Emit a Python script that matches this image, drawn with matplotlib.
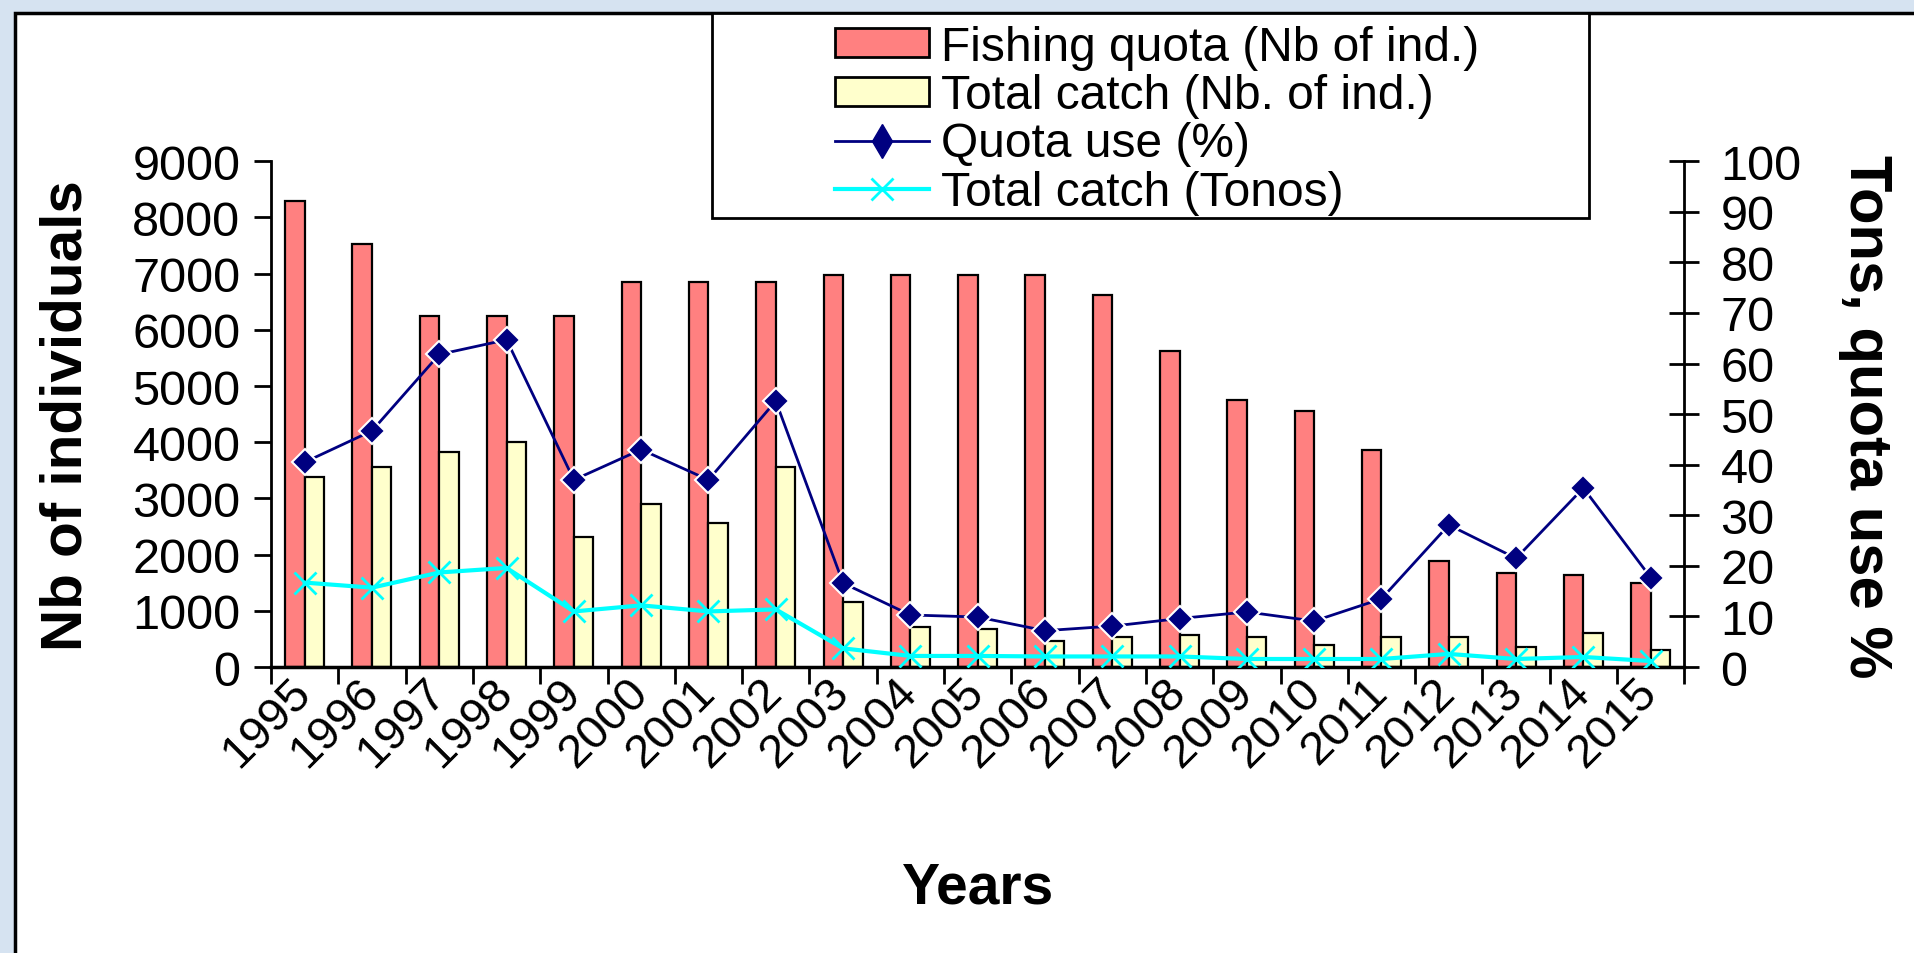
import numpy as np
import matplotlib
matplotlib.use("Agg")
import matplotlib.pyplot as plt
import matplotlib.patches as mpatches
from matplotlib.lines import Line2D

# valeurs
years = [str(y) for y in range(1995, 2016)]
quota = [8300, 7520, 6250, 6250, 6250, 6850, 6850, 6850, 6970, 6970, 6970,
         6970, 6620, 5630, 4750, 4550, 3860, 1890, 1680, 1630, 1500]
catch_nb = [3380, 3560, 3830, 4000, 2320, 2910, 2570, 3560, 1150, 720, 680,
            470, 530, 570, 530, 400, 530, 530, 360, 610, 310]
quota_use = [40.5, 46.7, 61.8, 64.7, 37.0, 43.0, 37.0, 52.6, 16.6, 10.3, 9.9,
             7.2, 8.1, 9.6, 10.9, 9.1, 13.5, 28.1, 21.5, 35.4, 17.7]
catch_tons = [16.7, 15.7, 18.7, 19.6, 11.0, 12.2, 11.0, 11.4, 3.7, 2.2, 2.2,
              2.1, 2.1, 2.1, 1.6, 1.6, 1.6, 2.6, 1.6, 2.0, 1.2]

labels = ["Fishing quota (Nb of ind.)", "Total catch (Nb. of ind.)",
          "Quota use (%)", "Total catch (Tonos)"]

plt.rcParams['font.family'] = ['Liberation Sans', 'DejaVu Sans']

fig = plt.figure(figsize=(19.14, 9.54), dpi=100)
fig.patch.set_facecolor('#d6e3f1')

# panneau blanc avec bord noir
panel = mpatches.Rectangle((0.0077, -0.1), 1.2, 1.085, transform=fig.transFigure,
                           facecolor='white', edgecolor='black', lw=2.5, zorder=-10)
fig.add_artist(panel)

ax = fig.add_axes([0.1416, 0.2997, 0.880 - 0.1416, 0.830 - 0.2997])
ax.patch.set_visible(False)

x = np.arange(len(years))
w = 0.29
ax.bar(x - w / 2, quota, w, color='#ff8080', edgecolor='black', lw=1.6)
ax.bar(x + w / 2, catch_nb, w, color='#ffffcc', edgecolor='black', lw=1.6)

ax.set_xlim(-0.5, len(years) - 0.5)
ax.set_ylim(0, 9000)
ax.set_yticks(range(0, 9001, 1000))
ax.tick_params(axis='y', direction='out', length=12, width=2, labelsize=35, pad=10)

# ticks entre les categories, labels au centre
ax.set_xticks(np.arange(-0.5, len(years), 1))
ax.set_xticklabels([])
ax.tick_params(axis='x', which='major', direction='out', length=12, width=2)
ax.set_xticks(x, years, minor=True)
ax.tick_params(axis='x', which='minor', length=0, labelsize=34, pad=13)
for lbl in ax.get_xticklabels(minor=True):
    lbl.set_rotation(45)
    lbl.set_ha('right')
    lbl.set_va('center')
    lbl.set_rotation_mode('anchor')

ax.spines['top'].set_visible(False)
ax.spines['right'].set_visible(False)
ax.spines['left'].set_linewidth(2)
ax.spines['bottom'].set_linewidth(2.5)

ax2 = ax.twinx()
ax2.plot(x, quota_use, color='#000080', lw=2, marker='D', ms=13,
         mfc='#000080', mec='white', mew=1.5, zorder=3)
ax2.plot(x, catch_tons, color='#00ffff', lw=3, marker='x', ms=16, mew=2, zorder=4)
ax2.set_ylim(0, 100)
ax2.set_yticks(range(0, 101, 10))
ax2.tick_params(axis='y', direction='inout', length=22, width=2, labelsize=35, pad=15)
ax2.spines['top'].set_visible(False)
ax2.spines['left'].set_visible(False)
ax2.spines['bottom'].set_visible(False)
ax2.spines['right'].set_linewidth(2)

fig.text(0.035, 0.564, 'Nb of individuals', rotation=90, fontsize=42,
         fontweight='bold', ha='center', va='center')
fig.text(0.9745, 0.563, 'Tons, quota use %', rotation=-90, fontsize=43,
         fontweight='bold', ha='center', va='center')
fig.text(0.511, 0.069, 'Years', fontsize=41, fontweight='bold',
         ha='center', va='center')

# cadre de la legende
frame = mpatches.Rectangle((0.372, 0.770), 0.458, 0.215, transform=fig.transFigure,
                           facecolor='white', edgecolor='black', lw=2, zorder=5)
fig.add_artist(frame)

handles = [
    mpatches.Patch(facecolor='#ff8080', edgecolor='black', lw=2),
    mpatches.Patch(facecolor='#ffffcc', edgecolor='black', lw=2),
    Line2D([], [], color='#000080', lw=2, marker='d', ms=17, mfc='#000080', mec='#000080'),
    Line2D([], [], color='#00ffff', lw=3, marker='x', ms=16, mew=2),
]
leg = fig.legend(handles, labels, loc='upper left', bbox_to_anchor=(0.434, 0.978),
                 frameon=False, fontsize=34.5, labelspacing=0.07, handlelength=1.95,
                 handleheight=0.55, handletextpad=0.25, borderpad=0.1, borderaxespad=0)
leg.set_zorder(6)

fig.savefig('out.png', dpi=100, facecolor=fig.get_facecolor())
